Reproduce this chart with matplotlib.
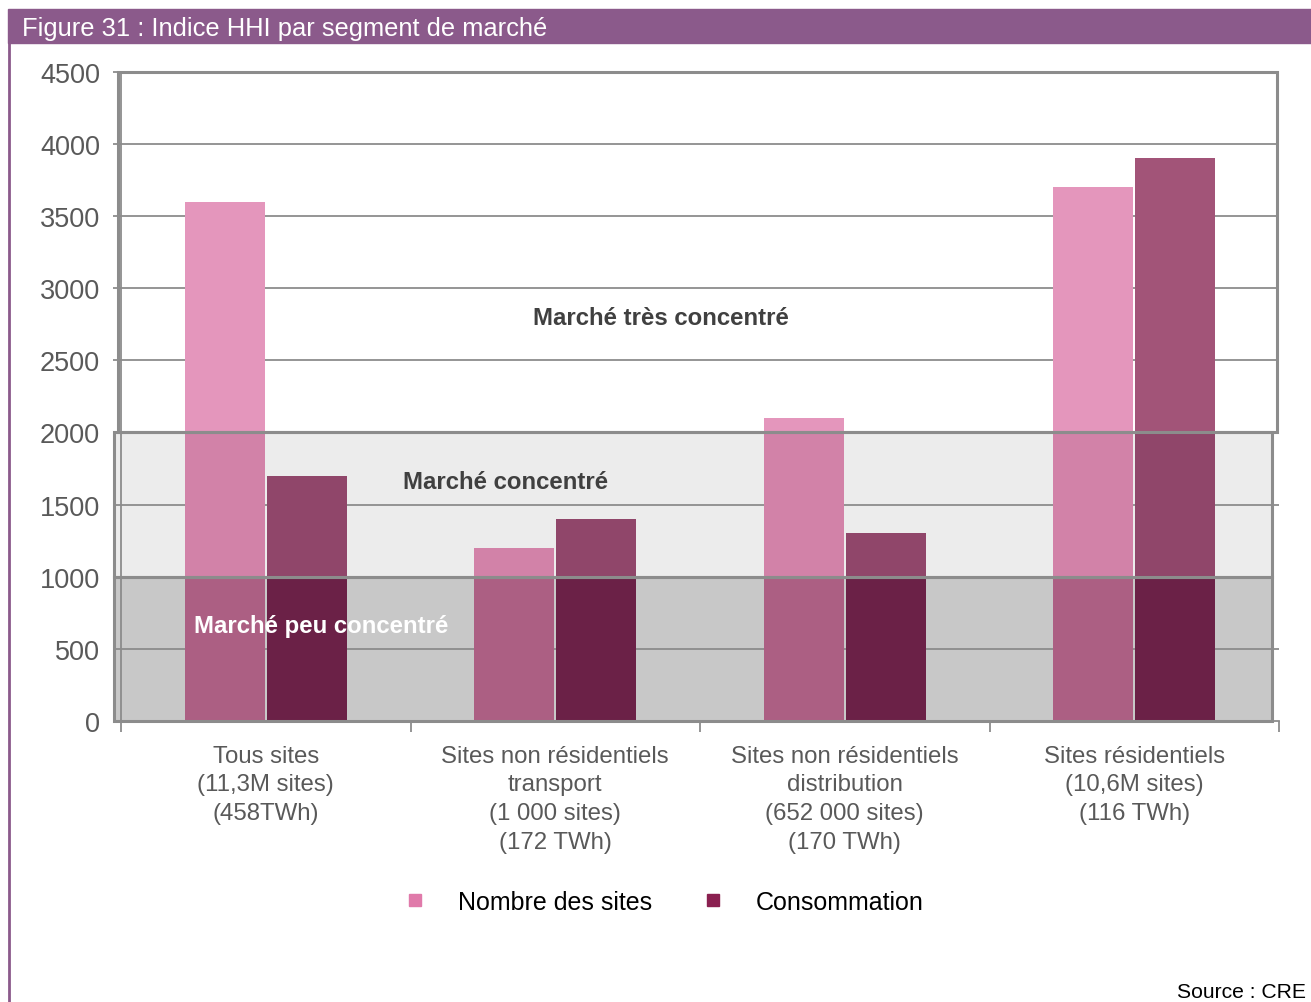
import matplotlib.pyplot as plt
import numpy as np
from matplotlib.patches import Rectangle
from matplotlib.lines import Line2D

categories = ["Tous sites\n(11,3M sites)\n(458TWh)",
              "Sites non résidentiels\ntransport\n(1 000 sites)\n(172 TWh)",
              "Sites non résidentiels\ndistribution\n(652 000 sites)\n(170 TWh)",
              "Sites résidentiels\n(10,6M sites)\n(116 TWh)"]
nombre_sites = [3600, 1200, 2100, 3700]
consommation = [1700, 1400, 1300, 3900]
band_edges = [0, 1000, 2000, 4500]
band_names = ["Marché peu concentré", "Marché concentré", "Marché très concentré"]

# colours of each series inside each band (low, mid, high)
pink_cols = ["#ac5f83", "#d282a8", "#e496bc"]
dark_cols = ["#6b2147", "#90466a", "#a25478"]
band_fill = ["#c8c8c8", "#ececec", "none"]
grey_txt = "#595959"
purple = "#8b5a8b"

plt.rcParams['font.family'] = ['Liberation Sans', 'DejaVu Sans']

fig = plt.figure(figsize=(13.11, 10.03), dpi=100)
ax = fig.add_axes([0.0923, 0.2802, 0.8833, 0.6471])

x = np.arange(len(categories))
w = 0.275
off = 0.1415

ax.set_xlim(-0.5, 3.5)
ax.set_ylim(0, 4500)

# band fills
for i in range(2):
    lo, hi = band_edges[i], band_edges[i + 1]
    ax.add_patch(Rectangle((-0.524, lo), 4.0, hi - lo, facecolor=band_fill[i],
                           edgecolor="none", zorder=0, clip_on=False))

# gridlines
for y in [500, 1500, 2500, 3000, 3500, 4000]:
    ax.axhline(y, color="#8c8c8c", lw=1.3, zorder=0.5)

# bars, coloured by band
for i in range(3):
    lo, hi = band_edges[i], band_edges[i + 1]
    h1 = np.clip(np.array(nombre_sites) - lo, 0, hi - lo)
    h2 = np.clip(np.array(consommation) - lo, 0, hi - lo)
    ax.bar(x - off, h1, w, bottom=lo, color=pink_cols[i], zorder=2, linewidth=0)
    ax.bar(x + off, h2, w, bottom=lo, color=dark_cols[i], zorder=2, linewidth=0)

# band outlines
ax.add_patch(Rectangle((-0.524, 0), 4.0, 1000, facecolor="none", edgecolor="#8c8c8c",
                       lw=2.2, zorder=3, clip_on=False))
ax.add_patch(Rectangle((-0.524, 1000), 4.0, 1000, facecolor="none", edgecolor="#8c8c8c",
                       lw=2.2, zorder=3, clip_on=False))
ax.add_patch(Rectangle((-0.51, 2000), 4.003, 2500, facecolor="none", edgecolor="#8c8c8c",
                       lw=2.2, zorder=3, clip_on=False))

ax.text(1.365, 2800, band_names[2], ha="center", va="center", fontsize=17.3,
        fontweight="bold", color="#404040", zorder=4)
ax.text(0.83, 1657, band_names[1], ha="center", va="center", fontsize=17.3,
        fontweight="bold", color="#404040", zorder=4)
ax.text(0.191, 659, band_names[0], ha="center", va="center", fontsize=17.3,
        fontweight="bold", color="white", zorder=4)

for s in ["top", "right"]:
    ax.spines[s].set_visible(False)
ax.spines["left"].set_color("#8c8c8c")
ax.spines["bottom"].set_color("#8c8c8c")
ax.spines["left"].set_linewidth(1.3)
ax.spines["bottom"].set_linewidth(1.3)

ax.set_yticks(np.arange(0, 4501, 500))
ax.tick_params(axis="y", labelsize=19.5, labelcolor=grey_txt, color="#8c8c8c",
               length=6, width=1.3, pad=9)
ax.set_xticks(x)
ax.set_xticklabels(categories, fontsize=17.3, color=grey_txt, linespacing=1.4)
ax.tick_params(axis="x", length=0, pad=17)
ax.set_xticks(np.arange(-0.5, 3.6, 1), minor=True)
ax.tick_params(axis="x", which="minor", length=8, width=1.3, color="#8c8c8c")

handles = [Line2D([], [], marker="s", ls="none", color="#e07aaa", markersize=9),
           Line2D([], [], marker="s", ls="none", color="#8a2050", markersize=9)]
fig.legend(handles, ["Nombre des sites", "Consommation"], loc="center",
           bbox_to_anchor=(0.506, 0.0997), ncol=2, frameon=False, fontsize=18,
           handlelength=1, handletextpad=1.2, columnspacing=1.95)

# banner and frame
fig.patches.append(Rectangle((8 / 1311, 1 - 44 / 1003), 1, 34 / 1003,
                             transform=fig.transFigure, color=purple, zorder=0))
fig.lines.append(Line2D([8.5 / 1311, 8.5 / 1311], [0, 1 - 44 / 1003],
                        transform=fig.transFigure, color=purple, lw=2))
fig.text(22 / 1311, 1 - 29 / 1003, "Figure 31 : Indice HHI par segment de marché",
         color="white", fontsize=18.4, va="center", ha="left")
fig.text(1306 / 1311, 1 - 993 / 1003, "Source : CRE", fontsize=15.2,
         ha="right", va="center", color="black")

fig.savefig("out.png", dpi=100)
